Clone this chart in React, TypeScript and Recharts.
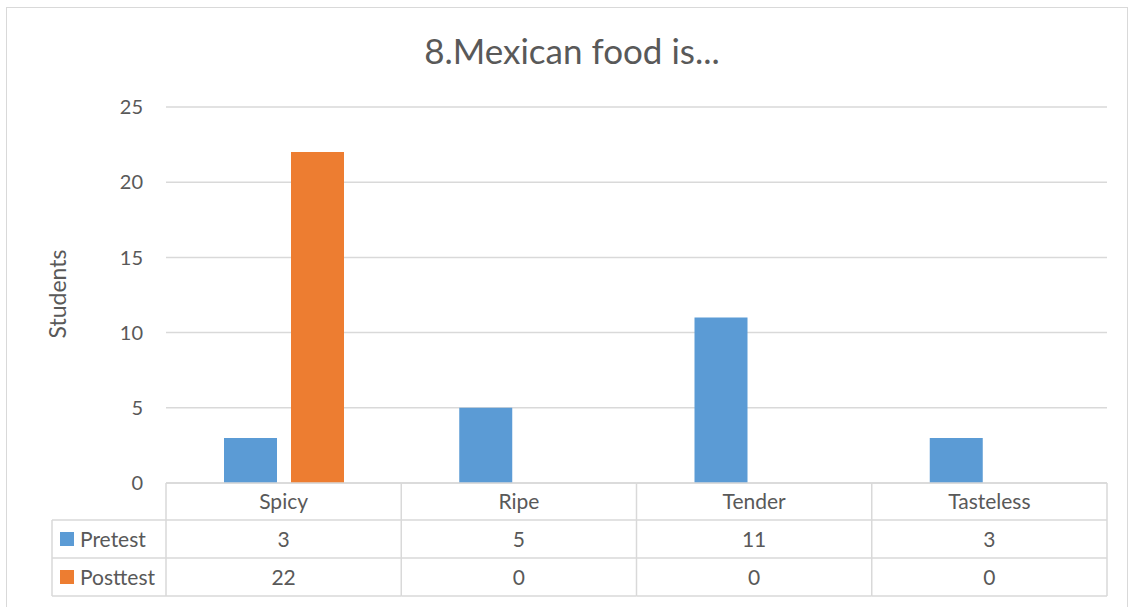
import React from 'react';
import { BarChart, Bar, XAxis, YAxis, CartesianGrid } from 'recharts';

const categories = ['Spicy', 'Ripe', 'Tender', 'Tasteless'];
const pretest = [3, 5, 11, 3];
const posttest = [22, 0, 0, 0];
const yTicks = [0, 5, 10, 15, 20, 25];

const data = categories.map((name, i) => ({ name, pretest: pretest[i], posttest: posttest[i] }));

const W = 1129;
const H = 607;
const PLOT_LEFT = 166;
const PLOT_RIGHT = 1107;
const PLOT_TOP = 107;
const PLOT_BOTTOM = 483;
const ROW = [483, 520, 558, 596];
const BAND = (PLOT_RIGHT - PLOT_LEFT) / categories.length;
const LEGEND_LEFT = 52;

const FONT = 'Lato, "Open Sans", sans-serif';
const TEXT = '#595959';
const LINE = '#d9d9d9';
const BLUE = '#5B9BD5';
const ORANGE = '#ED7D31';
const TABLE_FS = 21;

const rowMid = (r: number) => (ROW[r] + ROW[r + 1]) / 2;

// x axis tick draws one column of the data table
const TableTick = (props: any) => {
  const { x, payload, index } = props;
  const left = x - BAND / 2;
  const right = x + BAND / 2;
  const i = payload.index ?? index;
  const cell = (txt: string | number, r: number) => (
    <text x={x} y={rowMid(r) - 1} textAnchor="middle" dominantBaseline="central"
      fontSize={TABLE_FS} fill={TEXT} fontFamily={FONT}>{txt}</text>
  );
  return (
    <g>
      <line x1={left} x2={right} y1={ROW[0]} y2={ROW[0]} stroke={LINE} strokeWidth={1.5} />
      <line x1={left} x2={right} y1={ROW[1]} y2={ROW[1]} stroke={LINE} strokeWidth={1.5} />
      <line x1={left} x2={right} y1={ROW[2]} y2={ROW[2]} stroke={LINE} strokeWidth={1.5} />
      <line x1={left} x2={right} y1={ROW[3]} y2={ROW[3]} stroke={LINE} strokeWidth={1.5} />
      <line x1={right} x2={right} y1={ROW[0]} y2={ROW[3]} stroke={LINE} strokeWidth={1.5} />
      {i === 0 && (
        <g>
          <line x1={left} x2={left} y1={ROW[0]} y2={ROW[3]} stroke={LINE} strokeWidth={1.5} />
          <line x1={LEGEND_LEFT} x2={left} y1={ROW[1]} y2={ROW[1]} stroke={LINE} strokeWidth={1.5} />
          <line x1={LEGEND_LEFT} x2={left} y1={ROW[2]} y2={ROW[2]} stroke={LINE} strokeWidth={1.5} />
          <line x1={LEGEND_LEFT} x2={left} y1={ROW[3]} y2={ROW[3]} stroke={LINE} strokeWidth={1.5} />
          <line x1={LEGEND_LEFT} x2={LEGEND_LEFT} y1={ROW[1]} y2={ROW[3]} stroke={LINE} strokeWidth={1.5} />
          <rect x={60} y={rowMid(1) - 7} width={14} height={14} fill={BLUE} />
          <text x={80} y={rowMid(1) - 1} dominantBaseline="central" fontSize={TABLE_FS} fill={TEXT} fontFamily={FONT}>Pretest</text>
          <rect x={60} y={rowMid(2) - 7} width={14} height={14} fill={ORANGE} />
          <text x={80} y={rowMid(2) - 1} dominantBaseline="central" fontSize={TABLE_FS} fill={TEXT} fontFamily={FONT}>Posttest</text>
        </g>
      )}
      {cell(payload.value, 0)}
      {cell(pretest[i], 1)}
      {cell(posttest[i], 2)}
    </g>
  );
};

const AxisTitle = () => (
  <text x={57} y={294} transform="rotate(-90 57 294)" textAnchor="middle" dominantBaseline="central"
    fontSize={23} fill={TEXT} fontFamily={FONT}>Students</text>
);

export default function App() {
  return (
    <div style={{ position: 'absolute', left: 0, top: 0, width: W, height: H, overflow: 'hidden', background: '#fff', fontFamily: FONT }}>
      <div style={{ position: 'absolute', left: 6, top: 7, width: 1122, height: 620, border: `1.5px solid ${LINE}`, boxSizing: 'border-box' }} />
      <div style={{ position: 'absolute', left: 0, width: 1144, top: 28, textAlign: 'center', fontSize: 35, color: TEXT, lineHeight: '44px' }}>
        8.Mexican food is...
      </div>
      <div style={{ position: 'absolute', left: 0, top: 0 }}>
        <BarChart width={W} height={H} data={data} barSize={53} barGap={14}
          margin={{ top: PLOT_TOP, right: W - PLOT_RIGHT, left: 46, bottom: 11 }}>
          <CartesianGrid vertical={false} stroke={LINE} strokeWidth={1.5} />
          <XAxis dataKey="name" height={H - PLOT_BOTTOM - 11} axisLine={false} tickLine={false}
            tickSize={0} tickMargin={0} interval={0} tick={<TableTick />} />
          <YAxis width={PLOT_LEFT - 46} domain={[0, 25]} ticks={yTicks} axisLine={false} tickLine={false}
            tickSize={0} tickMargin={23} tick={{ fontSize: 20, fill: TEXT, fontFamily: FONT }}
            label={<AxisTitle />} />
          <Bar dataKey="pretest" fill={BLUE} isAnimationActive={false} />
          <Bar dataKey="posttest" fill={ORANGE} isAnimationActive={false} />
        </BarChart>
      </div>
    </div>
  );
}
